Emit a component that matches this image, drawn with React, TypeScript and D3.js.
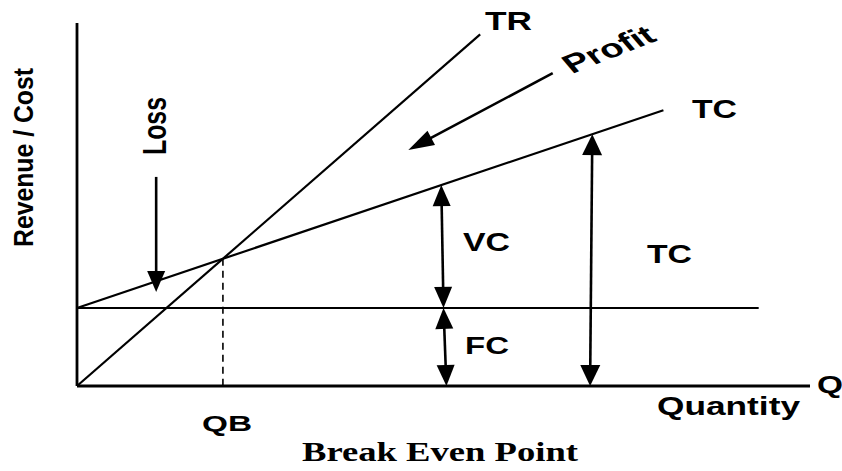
import React from "react";
import * as d3 from "d3";

// ---- Data (economic model) ----
const AXIS_DOMAIN_Q = [0, 100];
const AXIS_DOMAIN_V = [0, 100];
const FIXED_COST = 21.5;
const VAR_COST_PER_UNIT = 0.681;
const PRICE = 1.761;
const TR_END_Q = 55;
const TC_END_Q = 80;
const FC_END_Q = 93;
const VC_ARROW_Q = [49.7, 50.0];
const FC_ARROW_Q = [50.0, 50.4];
const TC_ARROW_Q = [70.3, 70.0];
const LOSS_ARROW = [10.8, 57.6, 10.8, 25.9];
const PROFIT_ARROW = [64.9, 86.2, 45.2, 65.0];

const W = 842;
const H = 471;

const x = d3.scaleLinear().domain(AXIS_DOMAIN_Q).range([77, 810]);
const y = d3.scaleLinear().domain(AXIS_DOMAIN_V).range([386, 23]);

const tc = (q: number) => FIXED_COST + VAR_COST_PER_UNIT * q;
const tr = (q: number) => PRICE * q;
const qBE = FIXED_COST / (PRICE - VAR_COST_PER_UNIT);

const line = d3.line<[number, number]>().x((d) => x(d[0])).y((d) => y(d[1]));

function head(x1: number, y1: number, x2: number, y2: number, len = 21, hw = 9) {
  // arrowhead with tip at (x2,y2) pointing from (x1,y1)
  const dx = x2 - x1, dy = y2 - y1;
  const L = Math.hypot(dx, dy);
  const ux = dx / L, uy = dy / L;
  const bx = x2 - ux * len, by = y2 - uy * len;
  const px = -uy, py = ux;
  return `${x2},${y2} ${bx + px * hw},${by + py * hw} ${bx - px * hw},${by - py * hw}`;
}

function Arrow({ x1, y1, x2, y2, double = false, len = 21, hw = 9 }: any) {
  const dx = x2 - x1, dy = y2 - y1;
  const L = Math.hypot(dx, dy);
  const ux = dx / L, uy = dy / L;
  const sx = double ? x1 + ux * (len - 4) : x1;
  const sy = double ? y1 + uy * (len - 4) : y1;
  const ex = x2 - ux * (len - 4), ey = y2 - uy * (len - 4);
  return (
    <g>
      <line x1={sx} y1={sy} x2={ex} y2={ey} stroke="#000" strokeWidth={2.6} />
      <polygon points={head(x1, y1, x2, y2, len, hw)} fill="#000" />
      {double && <polygon points={head(x2, y2, x1, y1, len, hw)} fill="#000" />}
    </g>
  );
}

const SANS = "'Liberation Sans', Arial, sans-serif";
const SERIF = "'Liberation Serif', 'Times New Roman', serif";

function Label({ text, px, py, size, len, rot = 0, family = SANS }: any) {
  return (
    <text
      transform={`translate(${px},${py}) rotate(${rot})`}
      fontFamily={family}
      fontWeight="bold"
      fontSize={size}
      textLength={len}
      lengthAdjust="spacingAndGlyphs"
      fill="#000"
    >
      {text}
    </text>
  );
}

export default function App() {
  const x0 = x(0), y0 = y(0);
  return (
    <svg
      width={W}
      height={H}
      viewBox={`0 0 ${W} ${H}`}
      style={{ position: "absolute", left: 0, top: 0, background: "#fff" }}
    >
      <rect width={W} height={H} fill="#fff" />
      {/* axes */}
      <line x1={x0} y1={y(AXIS_DOMAIN_V[1])} x2={x0} y2={y0} stroke="#000" strokeWidth={2.8} />
      <line x1={x0} y1={y0} x2={x(AXIS_DOMAIN_Q[1])} y2={y0} stroke="#000" strokeWidth={2.8} />

      {/* FC line */}
      <path d={line([[0, FIXED_COST], [FC_END_Q, FIXED_COST]])!} stroke="#000" strokeWidth={2} fill="none" />
      {/* TC line */}
      <path d={line([[0, tc(0)], [TC_END_Q, tc(TC_END_Q)]])!} stroke="#000" strokeWidth={2.2} fill="none" />
      {/* TR line */}
      <path d={line([[0, tr(0)], [TR_END_Q, tr(TR_END_Q)]])!} stroke="#000" strokeWidth={2.2} fill="none" />
      {/* break-even dashed */}
      <path
        d={line([[qBE, tc(qBE)], [qBE, 0]])!}
        stroke="#000"
        strokeWidth={1.6}
        strokeDasharray="7,5"
        fill="none"
      />

      {/* VC double arrow */}
      <Arrow x1={x(VC_ARROW_Q[0])} y1={y(tc(VC_ARROW_Q[0]))} x2={x(VC_ARROW_Q[1])} y2={y(FIXED_COST)} double />
      {/* FC double arrow */}
      <Arrow x1={x(FC_ARROW_Q[0])} y1={y(FIXED_COST)} x2={x(FC_ARROW_Q[1])} y2={y(0)} double />
      {/* TC double arrow */}
      <Arrow x1={x(TC_ARROW_Q[0])} y1={y(tc(TC_ARROW_Q[0]))} x2={x(TC_ARROW_Q[1])} y2={y(0)} double hw={10} />
      {/* Loss arrow */}
      <Arrow x1={x(LOSS_ARROW[0])} y1={y(LOSS_ARROW[1])} x2={x(LOSS_ARROW[2])} y2={y(LOSS_ARROW[3])} hw={9} />
      {/* Profit arrow */}
      <Arrow x1={x(PROFIT_ARROW[0])} y1={y(PROFIT_ARROW[1])} x2={x(PROFIT_ARROW[2])} y2={y(PROFIT_ARROW[3])} len={26} hw={8} />

      {/* labels */}
      <Label text="TR" px={485} py={30} size={25} len={47} />
      <Label text="TC" px={692} py={118} size={25} len={45} />
      <Label text="VC" px={463} py={251} size={25} len={47} />
      <Label text="FC" px={465} py={354} size={24} len={44} />
      <Label text="TC" px={647} py={263} size={25} len={45} />
      <Label text="Q" px={817} py={393} size={24} len={26} />
      <Label text="Quantity" px={657} py={415} size={26} len={143} />
      <Label text="QB" px={202} py={431} size={22} len={50} />
      <Label text="Break Even Point" px={302} py={461} size={27} len={276} family={SERIF} />
      <Label text="Revenue / Cost" px={33} py={247} size={28} len={179} rot={-90} />
      <Label text="Loss" px={166} py={155} size={33} len={58} rot={-90} />
      <text
        transform="translate(572,74) scale(1.47,1) rotate(-30)"
        fontFamily={SANS}
        fontWeight="bold"
        fontSize={26}
        fill="#000"
      >
        Profit
      </text>
    </svg>
  );
}
